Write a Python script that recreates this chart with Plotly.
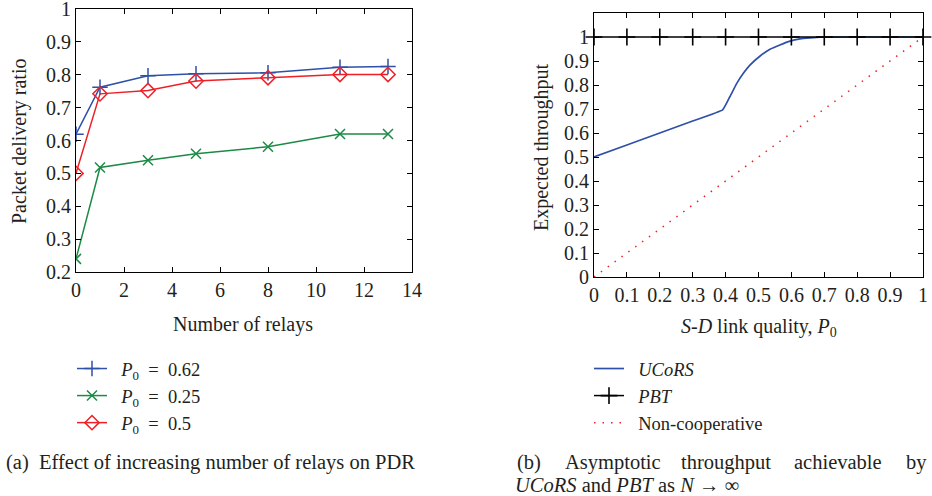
import plotly.graph_objects as go

# ---- data: left panel (PDR vs number of relays) ----
relays = [0, 1, 3, 5, 8, 11, 13]
pdr_062 = [0.619, 0.762, 0.797, 0.803, 0.806, 0.823, 0.825]
pdr_025 = [0.240, 0.518, 0.540, 0.560, 0.581, 0.620, 0.620]
pdr_05 = [0.500, 0.742, 0.752, 0.781, 0.791, 0.801, 0.801]

# ---- data: right panel (asymptotic throughput) ----
ucors_p = [0.0, 0.1, 0.2, 0.3, 0.391, 0.413, 0.434, 0.454, 0.474, 0.505,
           0.535, 0.565, 0.596, 0.626, 0.657, 0.687, 0.75, 0.85, 1.0]
ucors_t = [0.500, 0.550, 0.600, 0.650, 0.696, 0.751, 0.807, 0.849, 0.883, 0.921,
           0.949, 0.967, 0.983, 0.992, 0.996, 0.999, 1.0, 1.0, 1.0]
pbt_p = [0.0, 0.1, 0.2, 0.3, 0.4, 0.5, 0.6, 0.7, 0.8, 0.9, 1.0]
pbt_t = [1.0] * 11
noncoop_p = [0.0, 1.0]
noncoop_t = [0.0, 1.0]

BLUE = "#2f50a8"
GREEN = "#1c8a45"
RED = "#ee1f26"
TXT = "#231f20"
FONT = "Liberation Serif"
FS = 20
CFS = 20.5
LFS = 18.5
SP = "\u2002"

fig = go.Figure()

fig.add_trace(go.Scatter(x=relays, y=pdr_062, mode="lines+markers",
                         name=SP + "<i>P</i><sub>0</sub>" + SP + "=" + SP + "0.62",
                         line=dict(color=BLUE, width=1.5),
                         marker=dict(symbol="cross-thin", size=11, line=dict(color=BLUE, width=1.5)),
                         xaxis="x", yaxis="y", legend="legend"))
fig.add_trace(go.Scatter(x=relays, y=pdr_025, mode="lines+markers",
                         name=SP + "<i>P</i><sub>0</sub>" + SP + "=" + SP + "0.25",
                         line=dict(color=GREEN, width=1.5),
                         marker=dict(symbol="x-thin", size=10, line=dict(color=GREEN, width=1.5)),
                         xaxis="x", yaxis="y", legend="legend"))
fig.add_trace(go.Scatter(x=relays, y=pdr_05, mode="lines+markers",
                         name=SP + "<i>P</i><sub>0</sub>" + SP + "=" + SP + "0.5",
                         line=dict(color=RED, width=1.5),
                         marker=dict(symbol="diamond-open", size=11, color=RED, line=dict(color=RED, width=1.5)),
                         xaxis="x", yaxis="y", legend="legend"))

fig.add_trace(go.Scatter(x=ucors_p, y=ucors_t, mode="lines", name=SP + "<i>UCoRS</i>",
                         line=dict(color=BLUE, width=1.7, shape="spline", smoothing=0.3),
                         xaxis="x2", yaxis="y2", legend="legend2"))
fig.add_trace(go.Scatter(x=pbt_p, y=pbt_t, mode="lines+markers", name=SP + "<i>PBT</i>",
                         line=dict(color="black", width=1.5),
                         marker=dict(symbol="cross-thin", size=12, line=dict(color="black", width=1.6)),
                         xaxis="x2", yaxis="y2", legend="legend2", cliponaxis=False))
fig.add_trace(go.Scatter(x=noncoop_p, y=noncoop_t, mode="lines", name=SP + "Non-cooperative",
                         line=dict(color=RED, width=1.5, dash="1.5px,7px"),
                         xaxis="x2", yaxis="y2", legend="legend2"))

W, H = 932, 496
def px(x):
    return x / W
def py(y):
    return 1 - y / H

axis_common = dict(showline=True, linecolor="black", linewidth=1, mirror="ticks",
                   ticks="inside", ticklen=5, tickcolor="black", tickwidth=1,
                   showgrid=False, zeroline=False, ticklabeloverflow="allow",
                   automargin=False,
                   tickfont=dict(family=FONT, size=FS, color=TXT))

fig.update_layout(
    width=W, height=H,
    margin=dict(l=0, r=0, t=0, b=0, autoexpand=False),
    paper_bgcolor="white", plot_bgcolor="white",
    font=dict(family=FONT, size=FS, color=TXT),
    xaxis=dict(domain=[px(76), px(412)], range=[0, 14.0001], tickvals=list(range(0, 15, 2)),
               anchor="y", **axis_common),
    yaxis=dict(domain=[py(272), py(9)], range=[0.2, 1.0001],
               tickvals=[0.2, 0.3, 0.4, 0.5, 0.6, 0.7, 0.8, 0.9, 1.0],
               ticktext=["0.2", "0.3", "0.4", "0.5", "0.6", "0.7", "0.8", "0.9", "1"],
               anchor="x", **axis_common),
    xaxis2=dict(domain=[px(594), px(923)], range=[0, 1.0001],
                tickvals=pbt_p, ticktext=["0", "0.1", "0.2", "0.3", "0.4", "0.5", "0.6", "0.7", "0.8", "0.9", "1"],
                anchor="y2", **axis_common),
    yaxis2=dict(domain=[py(277), py(13)], range=[0, 1.1],
                tickvals=[0, 0.1, 0.2, 0.3, 0.4, 0.5, 0.6, 0.7, 0.8, 0.9, 1.0],
                ticktext=["0", "0.1", "0.2", "0.3", "0.4", "0.5", "0.6", "0.7", "0.8", "0.9", "1"],
                anchor="x2", **axis_common),
    legend=dict(x=px(72), y=py(350), xanchor="left", yanchor="top",
                font=dict(family=FONT, size=LFS, color=TXT), bgcolor="rgba(0,0,0,0)",
                tracegroupgap=0, itemwidth=30),
    legend2=dict(x=px(589), y=py(350), xanchor="left", yanchor="top",
                 font=dict(family=FONT, size=LFS, color=TXT), bgcolor="rgba(0,0,0,0)",
                 tracegroupgap=0, itemwidth=30),
    showlegend=True,
)

def A(text, x, y, xa="center", ya="middle", angle=0, size=FS):
    return dict(text=text, x=px(x), y=py(y), xref="paper", yref="paper",
                xanchor=xa, yanchor=ya, textangle=angle, showarrow=False,
                font=dict(family=FONT, size=size, color=TXT))

ann = []
ann.append(A("Number of relays", 243, 324))
ann.append(A("<i>S-D</i> link quality, <i>P</i><sub>0</sub>", 759, 327))
ann.append(A("Packet delivery ratio", 19, 141, angle=-90))
ann.append(A("Expected throughput", 541, 147, angle=-90))
ann.append(A("(a)  Effect of increasing number of relays on PDR", 4, 462, xa="left", size=CFS))
for word, xpos, anchor in [("(b)", 515, "left"), ("Asymptotic", 563, "left"),
                           ("throughput", 679, "left"), ("achievable", 792, "left"),
                           ("by", 929, "right")]:
    ann.append(A(word, xpos, 462, xa=anchor, size=CFS))
ann.append(A("<i>UCoRS</i> and <i>PBT</i> as <i>N</i> → ∞", 513, 485, xa="left", size=CFS))
fig.update_layout(annotations=ann)

fig.write_html("out.html", config={"displayModeBar": False},
               post_script="document.body.style.margin='0px';document.body.style.overflow='hidden';")
